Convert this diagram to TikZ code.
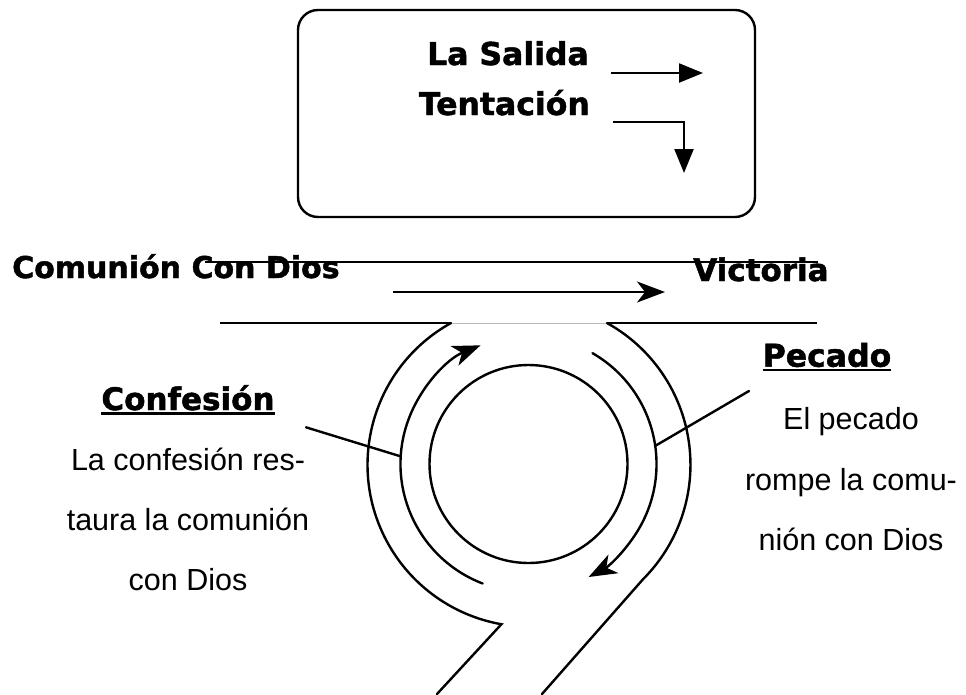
\documentclass[tikz,border=0pt]{standalone}
\usepackage{fontspec}
\setmainfont{Liberation Sans}
\newfontfamily\hvy{DejaVu Sans}[BoldFeatures={FakeBold=1.5}]
\usetikzlibrary{arrows.meta}
\tikzset{
  ln/.style={line width=2.4pt, line cap=round},
  hline/.style={line width=2.8pt},
  head/.style={inner sep=0pt, font=\hvy\bfseries\fontsize{#1}{#1}\selectfont},
  body/.style={inner sep=0pt, anchor=base, font=\fontsize{30.5}{36}\selectfont},
  tri/.style={-{Triangle[length=24pt,width=19pt]}},
  stl/.style={-{Stealth[length=28pt,width=21pt,inset=8pt]}},
}
\begin{document}
\begin{tikzpicture}[x=1pt,y=1pt]
\useasboundingbox (0,0) rectangle (966,-694);
% top box
\draw[line width=2.4pt, rounded corners=20pt] (298,-10) rectangle (755,-217);
\node[head=31.5, anchor=base east] (sal) at (589,-65) {La Salida};
\node[head=31.5, anchor=base east] (ten) at (590,-115) {Tentación};
\coordinate (a1s) at (611,-73);
\coordinate (a1e) at (703,-73);
\coordinate (a2s) at (613,-122);
\coordinate (a2e) at (684,-173);
\draw[line width=2.2pt, tri] (a1s) -- (a1e);
\draw[line width=2.2pt, tri] (a2s) -| (a2e);
% top band
\node[head=30, anchor=base west] (com) at (12,-278) {Comunión Con Dios};
\node[head=31, anchor=base west] (vic) at (693,-281) {Victoria};
\coordinate (tl) at (205,-262);
\coordinate (tr) at (818,-262);
\draw[hline] (tl) -- (tr);
\coordinate (ms) at (393,-292);
\coordinate (me) at (665,-292);
\draw[line width=2.4pt, stl] (ms) -- (me);
% lower band + outer arcs
\coordinate (bl) at (220,-323);
\coordinate (bli) at (451,-323);
\coordinate (bri) at (607,-323);
\coordinate (br) at (817,-323);
\coordinate (ll) at (437,-694);
\coordinate (lr) at (542,-694);
\draw[gray!55, line width=0.8pt] (bli) -- (bri);
\draw[hline] (bl) -- (bli);
\draw[hline] (br) -- (bri);
\draw[ln] (bli) arc[start angle=119, end angle=260, radius=162] -- (ll);
\draw[ln] (bri) arc[start angle=61, end angle=-45, radius=162] -- (lr);
% circles
\coordinate (C) at (528.5,-464);
\draw[ln] (C) circle[radius=99];
\draw[ln, stl] ([shift={(249:128)}]C) arc[start angle=249, end angle=112, radius=128];
\draw[ln, stl] ([shift={(60:128)}]C) arc[start angle=60, end angle=-62, radius=128];
% connectors
\coordinate (lc1) at (306,-427.3);
\coordinate (lc2) at (399.5,-456);
\coordinate (rc1) at (655,-446);
\coordinate (rc2) at (749,-391);
\draw[ln] (lc1) -- (lc2);
\draw[ln] (rc1) -- (rc2);
% left label
\node[head=31, anchor=base] (conf) at (188,-410) {Confesión};
\draw[line width=2.2pt] ([yshift=-3.5pt]conf.base west) -- ([yshift=-3.5pt]conf.base east);
\node[body] (l1) at (188,-470) {La confesión res-};
\node[body] (l2) at (188,-530) {taura la comunión};
\node[body] (l3) at (188,-590) {con Dios};
% right label
\node[head=31.5, anchor=base] (pec) at (827,-366.7) {Pecado};
\draw[line width=2.2pt] ([yshift=-3.5pt]pec.base west) -- ([yshift=-3.5pt]pec.base east);
\node[body] (r1) at (851,-429) {El pecado};
\node[body] (r2) at (851,-490) {rompe la comu-};
\node[body] (r3) at (851,-550) {nión con Dios};
\end{tikzpicture}
\end{document}
